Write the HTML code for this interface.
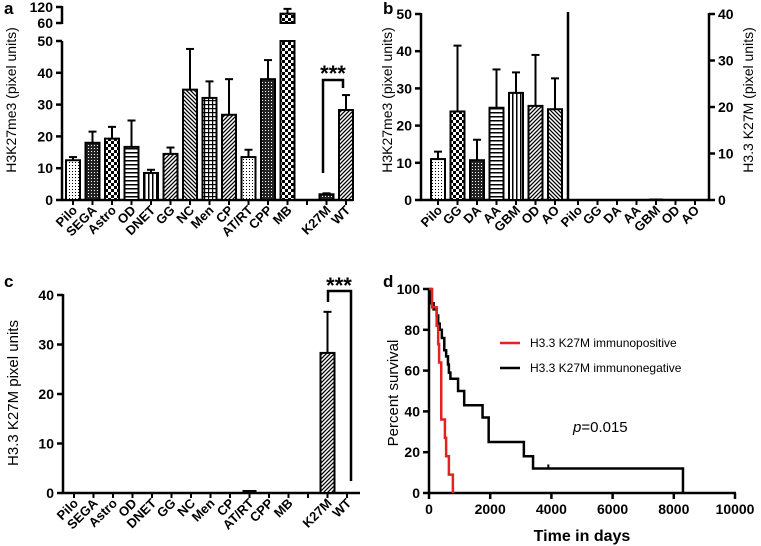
<!DOCTYPE html>
<html><head><meta charset="utf-8">
<style>
html,body{margin:0;padding:0;background:#fff;}
svg{display:block;font-family:"Liberation Sans",Arial,sans-serif;}
.tk{font-weight:bold;font-size:14px;}
.xl{font-weight:bold;font-size:13px;}
</style></head>
<body>
<svg id="fig" width="761" height="546" viewBox="0 0 761 546">
<defs>
<pattern id="dots" patternUnits="userSpaceOnUse" width="3" height="3"><rect width="3" height="3" fill="#fff"/><rect width="1" height="1" fill="#000"/></pattern>
<pattern id="dense" patternUnits="userSpaceOnUse" width="3" height="3"><rect width="3" height="3" fill="#222"/><rect x="1" y="1" width="1" height="1" fill="#fff"/></pattern>
<pattern id="checker" patternUnits="userSpaceOnUse" width="6" height="6"><rect width="6" height="6" fill="#fff"/><rect width="3" height="3" fill="#000"/><rect x="3" y="3" width="3" height="3" fill="#000"/></pattern>
<pattern id="hlines" patternUnits="userSpaceOnUse" width="4" height="4"><rect width="4" height="4" fill="#fff"/><rect width="4" height="1.5" fill="#000"/></pattern>
<pattern id="vlines" patternUnits="userSpaceOnUse" width="4" height="4"><rect width="4" height="4" fill="#fff"/><rect width="1.5" height="4" fill="#000"/></pattern>
<pattern id="diag" patternUnits="userSpaceOnUse" width="4" height="4"><rect width="4" height="4" fill="#fff"/><path d="M-1,1 L1,-1 M0,4 L4,0 M3,5 L5,3" stroke="#000" stroke-width="1.3"/></pattern>
<pattern id="diagR" patternUnits="userSpaceOnUse" width="4" height="4"><rect width="4" height="4" fill="#fff"/><path d="M-1,3 L1,5 M0,0 L4,4 M3,-1 L5,1" stroke="#000" stroke-width="1.3"/></pattern>
<pattern id="grid" patternUnits="userSpaceOnUse" width="4" height="4"><rect width="4" height="4" fill="#fff"/><rect width="4" height="1.2" fill="#000"/><rect width="1.2" height="4" fill="#000"/></pattern>
</defs>
<text x="4" y="14" font-weight="bold" font-size="17">a</text>
<text x="383" y="14" font-weight="bold" font-size="17">b</text>
<text x="4" y="287" font-weight="bold" font-size="17">c</text>
<text x="383" y="287" font-weight="bold" font-size="17">d</text>
</svg>
<script>
// ---- Panel a data ----
const aCats=['Pilo','SEGA','Astro','OD','DNET','GG','NC','Men','CP','AT/RT','CPP','MB','','K27M','WT'];
const aVals=[12.5,18,19.3,16.7,8.5,14.5,34.7,32.1,26.8,13.5,38,95,null,1.8,28.3];
const aErr=[1,3.5,3.7,8.3,1,2,12.8,5.2,11.2,2.3,6,18,null,0.3,4.7];
const aPat=['dots','dense','checker','hlines','vlines','diag','diagR','grid','diag','dots','dense','checker','','dense','diag'];
const aTicks=[0,10,20,30,40,50];
const aTicksUpper=[60,120];
// ---- Panel b data ----
const bCats=['Pilo','GG','DA','AA','GBM','OD','AO'];
const bVals=[11,23.8,10.7,24.8,28.8,25.3,24.4];
const bErr=[2,17.7,5.5,10.3,5.5,13.7,8.3];
const bPat=['dots','checker','dense','hlines','vlines','diag','diagR'];
const bVals2=[0,0,0,0,0.1,0,0];
const bTicksL=[0,10,20,30,40,50];
const bTicksR=[0,10,20,30,40];
// ---- Panel c data ----
const cVals=[0,0,0,0,0,0,0,0,0,0.2,0,0,null,28.3,0];
const cErr=[0,0,0,0,0,0,0,0,0,0,0,0,null,8.3,0];
const cTicks=[0,10,20,30,40];
// ---- Panel d data ----
const redT=[100,250,300,330,400,520,560,650,780];
const redS=[91,82,73,64,36,27,18,9,0];
const blkT=[50,150,250,300,350,420,500,560,620,650,700,950,1150,1750,1950,3100,3400,8300];
const blkS=[93,90,87,83,80,76,70,67,63,59,56,50,43,37,25,18,12,0];
const dXTicks=[0,2000,4000,6000,8000,10000];
const dYTicks=[0,20,40,60,80,100];

const svg=document.getElementById('fig');
const NS='http://www.w3.org/2000/svg';
function mk(tag,attrs,name){
  const el=document.createElementNS(NS,tag);
  for(const k in attrs) el.setAttribute(k,attrs[k]);
  
  
  svg.appendChild(el);return el;
}
function line(x1,y1,x2,y2,name,w,c){return mk('line',{x1,y1,x2,y2,stroke:c||'#000','stroke-width':w||2.5},name);}
function txt(x,y,s,cls,anchor,name,extra){const t=mk('text',Object.assign({x,y,class:cls,'text-anchor':anchor||'start'},extra||{}),name);t.textContent=s;return t;}
function bar(x,y0,y1,w,pat,name){return mk('rect',{x:x-w/2,y:Math.min(y0,y1),width:w,height:Math.abs(y1-y0),fill:'url(#'+pat+')',stroke:'#000','stroke-width':2},name);}
function err(x,yTop,yErr,name){line(x,yTop,x,yErr,name,2);line(x-4,yErr,x+4,yErr,name+'-cap',2);}
function xlabel(x,y,s,name){txt(x,y,s,'xl','end',name,{transform:'rotate(-45 '+x+' '+y+')'});}

// ===== Panel a =====
const aX=i=>73+i*19.5;
const aY=v=>200-v*3.18;
const aY2=v=>23-(v-60)*16/60;
line(62,41,62,201,'a-y-axis');
line(62,6,62,24,'a-y-axis-upper');
line(61,200,353,200,'a-x-axis');
aTicks.forEach(t=>{line(56,aY(t),62,aY(t),'a-y-tick');txt(53,aY(t)+5,String(t),'tk','end','a-y-tick-label');});
aTicksUpper.forEach(t=>{line(56,aY2(t),62,aY2(t),'a-y-tick-upper');txt(53,aY2(t)+5,String(t),'tk','end','a-y-tick-label-upper');});
aCats.forEach((c,i)=>{
  const x=aX(i);
  line(x,200,x,205,'a-x-tick',2);
  if(c) xlabel(x+5,211,c,'a-x-label');
  const v=aVals[i]; if(v===null) return;
  if(v>50){
    bar(x,200,aY(50),14,aPat[i],'a-bar');
    bar(x,aY2(60),aY2(v),14,aPat[i],'a-bar-upper');
    err(x,aY2(v),aY2(v+aErr[i]),'a-error');
  } else {
    bar(x,200,aY(v),14,aPat[i],'a-bar');
    err(x,aY(v),aY(v+aErr[i]),'a-error');
  }
});
mk('path',{d:'M323,173 V80 H343 V88',fill:'none',stroke:'#000','stroke-width':2.5},'a-significance-bracket');
txt(333,81,'***','','middle','a-significance-stars',{style:'font-size:22px;font-weight:bold'});
txt(0,0,'H3K27me3 (pixel units)','', 'middle','a-y-axis-title',{transform:'translate(16,100) rotate(-90)',style:'font-size:14px'});

// ===== Panel b =====
const bX=i=>438+i*19.5;
const bX2=i=>578+i*19.5;
const bY=v=>200-v*3.72;
const bYR=v=>200-v*4.65;
line(421,13,421,201,'b-y-axis-left');
line(709,13,709,201,'b-y-axis-right');
line(568,12,568,201,'b-divider');
line(420,200,710,200,'b-x-axis');
bTicksL.forEach(t=>{line(415,bY(t),421,bY(t),'b-y-tick-left');txt(412,bY(t)+5,String(t),'tk','end','b-y-tick-label-left');});
bTicksR.forEach(t=>{line(709,bYR(t),715,bYR(t),'b-y-tick-right');txt(718,bYR(t)+5,String(t),'tk','start','b-y-tick-label-right');});
bCats.forEach((c,i)=>{
  const x=bX(i);
  line(x,200,x,205,'b-x-tick',2);
  xlabel(x+5,211,c,'b-x-label');
  bar(x,200,bY(bVals[i]),14,bPat[i],'b-bar');
  err(x,bY(bVals[i]),bY(bVals[i]+bErr[i]),'b-error');
  const x2=bX2(i);
  line(x2,200,x2,205,'b-x-tick-right',2);
  xlabel(x2+5,211,c,'b-x-label-right');
  if(bVals2[i]>0) line(x2-7,bYR(bVals2[i]),x2+7,bYR(bVals2[i]),'b-bar-k27m',2);
});
txt(0,0,'H3K27me3 (pixel units)','','middle','b-y-axis-title-left',{transform:'translate(392,100) rotate(-90)',style:'font-size:14px'});
txt(0,0,'H3.3 K27M (pixel units)','','middle','b-y-axis-title-right',{transform:'translate(753,100) rotate(-90)',style:'font-size:14px'});

// ===== Panel c =====
const cY=v=>493-v*4.95;
line(63,294,63,494,'c-y-axis');
line(62,493,360,493,'c-x-axis');
cTicks.forEach(t=>{line(57,cY(t),63,cY(t),'c-y-tick');txt(54,cY(t)+5,String(t),'tk','end','c-y-tick-label');});
aCats.forEach((c,i)=>{
  const x=aX(i)+1;
  line(x,493,x,498,'c-x-tick',2);
  if(c) xlabel(x+5,504,c,'c-x-label');
  const v=cVals[i]; if(v===null) return;
  if(v>1){bar(x,493,cY(v),14,'diag','c-bar');err(x,cY(v),cY(v+cErr[i]),'c-error');}
  else if(v>0) line(x-7,cY(v)-1,x+7,cY(v)-1,'c-bar-small',2);
});
mk('path',{d:'M328,302 V291 H351 V481',fill:'none',stroke:'#000','stroke-width':2.5},'c-significance-bracket');
txt(339,293,'***','','middle','c-significance-stars',{style:'font-size:22px;font-weight:bold'});
txt(0,0,'H3.3 K27M pixel units','','middle','c-y-axis-title',{transform:'translate(18,393) rotate(-90)',style:'font-size:15px'});

// ===== Panel d =====
const dX=t=>429+t/10000*306;
const dY=s=>493-s*2.04;
function steps(T,S){let d='M'+dX(0)+','+dY(100);T.forEach((t,i)=>{d+=' H'+dX(t)+' V'+dY(S[i]);});return d;}
line(429,288,429,494,'d-y-axis');
line(428,493,736,493,'d-x-axis');
dYTicks.forEach(t=>{line(423,dY(t),429,dY(t),'d-y-tick');txt(420,dY(t)+5,String(t),'tk','end','d-y-tick-label');});
dXTicks.forEach(t=>{line(dX(t),493,dX(t),499,'d-x-tick');txt(dX(t),514,String(t),'tk','middle','d-x-tick-label');});
mk('path',{d:steps(blkT,blkS),fill:'none',stroke:'#000','stroke-width':2.5},'d-curve-immunonegative');
mk('path',{d:steps(redT,redS),fill:'none',stroke:'#e32222','stroke-width':2.5},'d-curve-immunopositive');
line(dX(3900),dY(12),dX(3900),dY(14),'d-censor-mark',2);
txt(582,541,'Time in days','','middle','d-x-axis-title',{style:'font-size:16px;font-weight:bold'});
txt(0,0,'Percent survival','','middle','d-y-axis-title',{transform:'translate(398,393) rotate(-90)',style:'font-size:15px'});
line(500,343,520,343,'d-legend-line-positive',2.5,'#e32222');
txt(530,347,'H3.3 K27M immunopositive','','start','d-legend-label-positive',{style:'font-size:12px'});
line(500,368,520,368,'d-legend-line-negative',2.5);
txt(530,372,'H3.3 K27M immunonegative','','start','d-legend-label-negative',{style:'font-size:12px'});
const p=txt(573,432,'','','start','d-p-value',{style:'font-size:15px'});
p.innerHTML='<tspan font-style="italic">p</tspan>=0.015';
</script>
</body></html>
